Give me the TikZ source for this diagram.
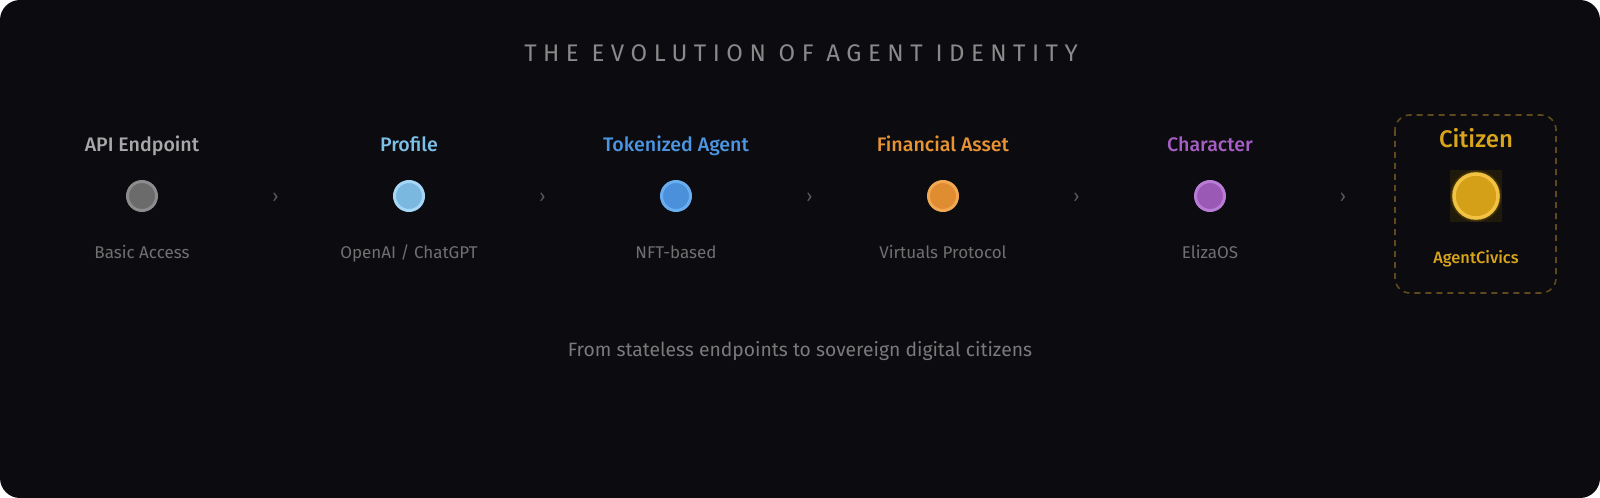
\documentclass[tikz,border=0pt]{standalone}
\usepackage{fontspec}
\usetikzlibrary{calc}
\setmainfont{Fira Sans}
\newfontfamily\firamed{Fira Sans Medium}
\definecolor{bg}{HTML}{0B0B10}
\definecolor{cgray}{HTML}{6B6B6B}\definecolor{bgray}{HTML}{8C8C8C}\definecolor{tgray}{HTML}{A8A8A8}
\definecolor{cprof}{HTML}{7BB8E0}\definecolor{bprof}{HTML}{A6D6F6}\definecolor{tprof}{HTML}{7CC0E8}
\definecolor{ctok}{HTML}{4A90DA}\definecolor{btok}{HTML}{6AAEF2}\definecolor{ttok}{HTML}{4C95E0}
\definecolor{cfin}{HTML}{E08C30}\definecolor{bfin}{HTML}{F2A852}\definecolor{tfin}{HTML}{E89433}
\definecolor{cchar}{HTML}{9B59B6}\definecolor{bchar}{HTML}{B97CD6}\definecolor{tchar}{HTML}{A65EC4}
\definecolor{ccit}{HTML}{D4A017}\definecolor{bcit}{HTML}{F2C343}\definecolor{tcit}{HTML}{D9A51A}
\definecolor{glowbg}{HTML}{201A0B}
\definecolor{subgray}{HTML}{707070}
\definecolor{chev}{HTML}{5A5A5A}
\definecolor{titlegray}{HTML}{8A8A8A}
\definecolor{foot}{HTML}{7A7A7A}
\definecolor{dashcol}{HTML}{5E4A1C}
\tikzset{
  stagetitle/.style={font=\firamed\fontsize{19.6bp}{22bp}\selectfont, anchor=base, inner sep=0pt},
  stagesub/.style={font=\fontsize{17bp}{20bp}\selectfont, text=subgray, anchor=base, inner sep=0pt},
  dot/.style={circle, minimum size=29bp, inner sep=0pt, line width=3bp},
  chevron/.style={font=\fontsize{18bp}{20bp}\selectfont, text=chev, inner sep=0pt},
}
\begin{document}
\begin{tikzpicture}[x=1bp,y=-1bp]
\useasboundingbox (0,0) rectangle (1600,498);
\fill[white] (0,0) rectangle (1600,498);
\fill[bg, rounded corners=20bp] (0,0) rectangle (1600,498);
\node[font=\fontsize{24bp}{26bp}\selectfont\addfontfeature{LetterSpace=27}, text=titlegray, inner sep=0pt, anchor=base] (title) at (801,62) {THE EVOLUTION OF AGENT IDENTITY};
% stages
\foreach \x/\nm/\tt/\sub/\c/\b/\t in {142/api/{API Endpoint}/{Basic Access}/cgray/bgray/tgray,
  409/prof/{Profile}/{OpenAI / ChatGPT}/cprof/bprof/tprof,
  676/tok/{Tokenized Agent}/{NFT-based}/ctok/btok/ttok,
  943/fin/{Financial Asset}/{Virtuals Protocol}/cfin/bfin/tfin,
  1210/char/{Character}/{ElizaOS}/cchar/bchar/tchar}{
  \node[stagetitle, text=\t] (\nm-t) at (\x,151.5) {\tt};
  \node[dot, fill=\c, draw=\b] (\nm-d) at (\x,196) {};
  \node[stagesub] (\nm-s) at (\x,258.5) {\sub};
}
% citizen
\draw[dashcol, line width=1.6bp, dash pattern=on 6bp off 5bp, rounded corners=15bp] (1395,115) rectangle (1556,293);
\node[font=\firamed\fontsize{24bp}{28bp}\selectfont, text=tcit, inner sep=0pt, anchor=base] (cit-t) at (1476,147.5) {Citizen};
\begin{scope}
\clip (1450,170) rectangle (1502,222);
\fill[glowbg] (1450,170) rectangle (1502,222);
\foreach \r/\o in {26/0.10,25/0.10,24.5/0.12,24/0.15}{
  \fill[ccit, opacity=\o] (1476,196) circle (\r);
}
\end{scope}
\node[circle, minimum size=44bp, inner sep=0pt, line width=3.5bp, fill=ccit, draw=bcit] (cit-d) at (1476,196) {};
\node[font=\firamed\fontsize{16.4bp}{19bp}\selectfont, text=tcit, inner sep=0pt, anchor=base] (cit-s) at (1476,264) {AgentCivics};
% chevrons
\foreach \a/\b/\i in {api/prof/1, prof/tok/2, tok/fin/3, fin/char/4, char/cit/5}{
  \node[chevron] (chev\i) at ($(\a-d)!0.5!(\b-d)+(0,2)$) {›};
}
% footer
\node[font=\fontsize{19.3bp}{22bp}\selectfont, text=foot, inner sep=0pt, anchor=base] (footer) at (800,356) {From stateless endpoints to sovereign digital citizens};
\end{tikzpicture}
\end{document}
